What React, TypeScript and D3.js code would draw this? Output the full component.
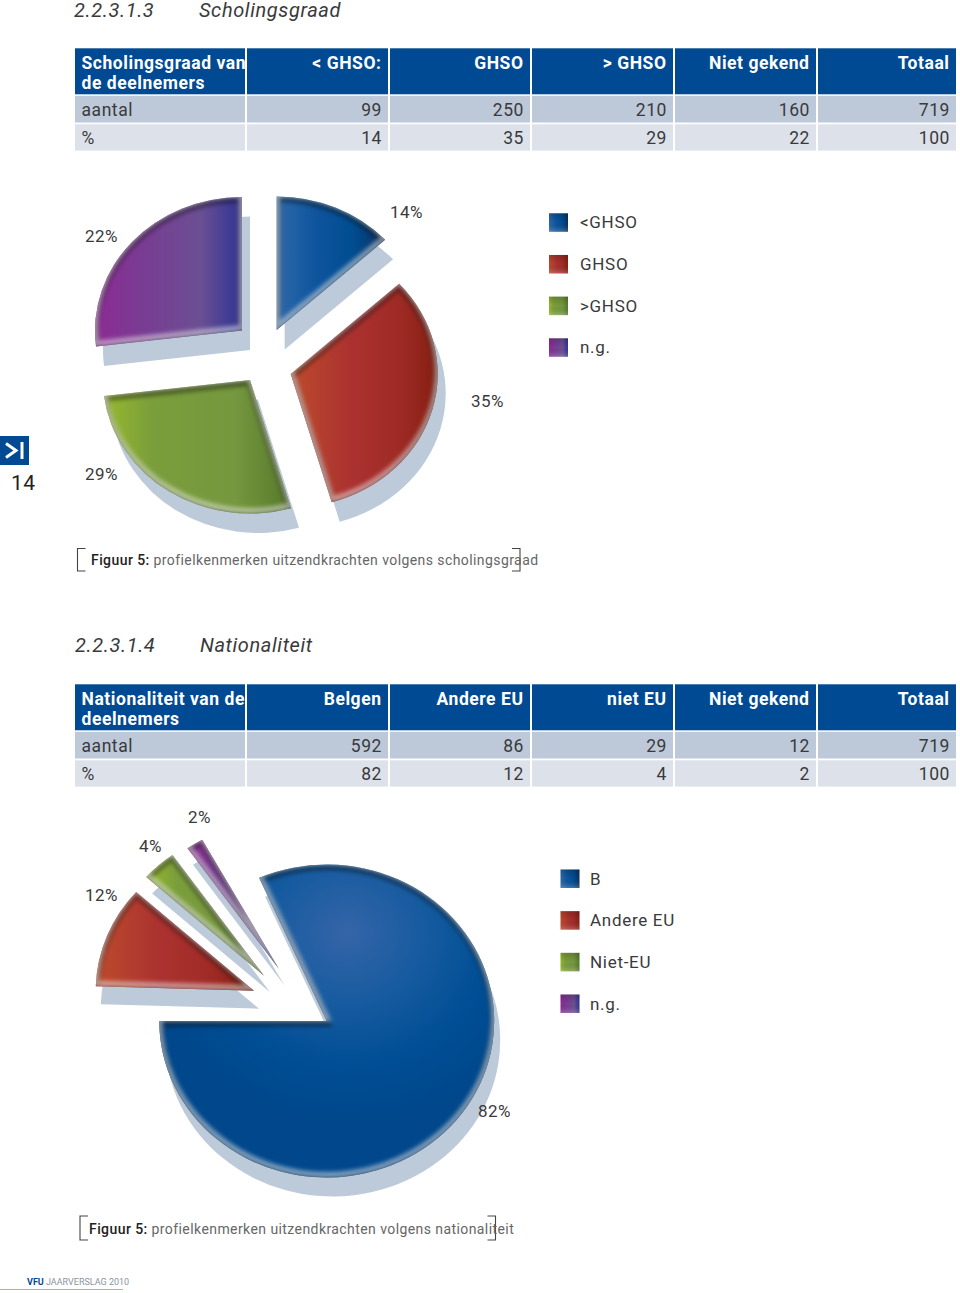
import React from "react";
import * as d3 from "d3";

// ---- tables
const table1Head = ["Scholingsgraad van|de deelnemers", "< GHSO:", "GHSO", "> GHSO", "Niet gekend", "Totaal"];
const table1Count = ["aantal", "99", "250", "210", "160", "719"];
const table1Pct = ["%", "14", "35", "29", "22", "100"];
const table2Head = ["Nationaliteit van de|deelnemers", "Belgen", "Andere EU", "niet EU", "Niet gekend", "Totaal"];
const table2Count = ["aantal", "592", "86", "29", "12", "719"];
const table2Pct = ["%", "82", "12", "4", "2", "100"];

// ---- pies: wedge sizes as they are drawn in the picture, and their printed labels
const pie1Names = ["<GHSO", "GHSO", ">GHSO", "n.g."];
const pie1Drawn = [13.2, 32.3, 27.6, 26.9];
const pie1Labels = ["14%", "35%", "29%", "22%"];
const pie2Names = ["B", "", "Andere EU", "Niet-EU", "n.g.", ""]; // unnamed = empty gap in the drawing
const pie2Drawn = [81.6, 0.5, 11.15, 3.55, 1.75, 1.45];
const pie2Labels = ["82%", "", "12%", "4%", "2%", ""];
const pie2Legend = ["B", "Andere EU", "Niet-EU", "n.g."];

// ---- layout + style
const FONT = "Roboto, sans-serif";
const COLS = [75, 247, 390, 532, 675, 818, 958];
const NAVY = "#004a93";
const INK = "#3a3a3c";
const SHADOW = "#bccad9";

const fills: Record<string, [number, string][]> = {
  blue: [[0, "#2e69aa"], [0.35, "#0f559e"], [0.7, "#004d91"], [1, "#0b2f5f"]],
  red: [[0, "#bd4b2c"], [0.4, "#ab3230"], [0.72, "#a02b26"], [1, "#851f12"]],
  green: [[0, "#96b92e"], [0.25, "#7b9e3b"], [0.7, "#75973f"], [1, "#56792a"]],
  purple: [[0, "#8d2b94"], [0.3, "#7a3b93"], [0.72, "#6b4f93"], [0.92, "#3f3b94"], [1, "#3a3690"]],
};
const colourKeys = ["blue", "red", "green", "purple"];

const pie1Layout = [
  { x: 276.7, y: 330, lx: 390, ly: 218 },
  { x: 290.7, y: 374, lx: 471, ly: 407 },
  { x: 250, y: 380, lx: 85, ly: 480 },
  { x: 242, y: 330.5, lx: 85, ly: 242 },
];
const pie2Layout: Record<string, { x: number; y: number; k: number; lx: number; ly: number; sx: number; sy: number }> = {
  "B": { x: 326.7, y: 1021, k: 1, lx: 478, ly: 1117, sx: 6, sy: 19 },
  "Andere EU": { x: 254, y: 990.7, k: 0.945, lx: 85, ly: 901, sx: 5, sy: 18 },
  "Niet-EU": { x: 264, y: 975.7, k: 0.945, lx: 139, ly: 852, sx: 6, sy: 16.5 },
  "n.g.": { x: 279, y: 969, k: 0.945, lx: 188, ly: 823, sx: 5.5, sy: 16.5 },
};

function Table({ y, head, count, pct }: { y: number; head: string[]; count: string[]; pct: string[] }) {
  const xs = d3.scaleOrdinal<number, number>().domain(d3.range(6)).range(COLS);
  const rows = [
    { cells: count, top: y + 47.5, h: 26.7, fill: "#bdc9d8" },
    { cells: pct, top: y + 76, h: 26.3, fill: "#dde2ea" },
  ];
  return (
    <g fontFamily={FONT} fontSize={17.5}>
      {head.map((h, i) => {
        const x0 = i === 0 ? 75 : COLS[i];
        const x1 = i === 0 ? 245 : COLS[i + 1] - 2;
        const lines = h.split("|");
        return (
          <g key={i}>
            <rect x={x0} y={y} width={x1 - x0} height={46} fill={NAVY} />
            {lines.map((t, j) => (
              <text key={j} x={i === 0 ? 81.5 : x1 - 6.5} y={y + 21 + j * 19.5} textAnchor={i === 0 ? "start" : "end"}
                fill="#fff" fontWeight={700} letterSpacing={0.55}>{t}</text>
            ))}
          </g>
        );
      })}
      {rows.map((r, ri) => r.cells.map((c, i) => {
        const x0 = i === 0 ? 75 : xs(i);
        const x1 = i === 0 ? 245 : COLS[i + 1] - 2;
        return (
          <g key={ri + "-" + i}>
            <rect x={x0} y={r.top} width={x1 - x0} height={r.h} fill={r.fill} />
            <text x={i === 0 ? 81.5 : x1 - 6} y={r.top + 20} textAnchor={i === 0 ? "start" : "end"} fill={INK} letterSpacing={0.55}>{c}</text>
          </g>
        );
      }))}
    </g>
  );
}

function Wedge({ id, d, x, y, sx, sy, scaleX, colour, mode }: any) {
  const tf = `translate(${x},${y}) scale(${scaleX},1)`;
  if (mode === "shadow") return <path d={d} transform={`translate(${x + sx},${y + sy}) scale(${scaleX},1)`} fill={SHADOW} />;
  return (
    <g>
      <clipPath id={`clip-${id}`}><path d={d} transform={tf} /></clipPath>
      <path d={d} transform={tf} fill={`url(#grad-${colour})`} />
      <g clipPath={`url(#clip-${id})`}>
        <path d={d} transform={`translate(${x},${y + 2}) scale(${scaleX},1)`} fill="none" stroke="#000" strokeOpacity={0.42} strokeWidth={7} filter="url(#soft)" />
        <path d={d} transform={`translate(${x},${y - 2.5}) scale(${scaleX},1)`} fill="none" stroke="#fff" strokeOpacity={0.5} strokeWidth={6} filter="url(#soft)" />
      </g>
    </g>
  );
}

function Legend({ x, textX, y, names }: { x: number; textX: number; y: number; names: string[] }) {
  const sy = d3.scalePoint<string>().domain(names).range([y, y + 125]);
  return (
    <g fontFamily={FONT} fontSize={17} fill={INK} letterSpacing={0.7}>
      {names.map((n, i) => (
        <g key={n}>
          <rect x={x} y={sy(n)!} width={19} height={18.5} fill={`url(#grad-${colourKeys[i]})`} />
          <rect x={x} y={sy(n)!} width={19} height={18.5} fill="url(#swatchShade)" />
          <text x={textX} y={sy(n)! + 15}>{n}</text>
        </g>
      ))}
    </g>
  );
}

function Bracket({ x0, x1, y0, y1 }: { x0: number; x1: number; y0: number; y1: number }) {
  return (
    <g fill="none" stroke="#444" strokeWidth={1.1}>
      <path d={`M${x0 + 8},${y0}H${x0}V${y1}H${x0 + 8}`} />
      <path d={`M${x1 - 8},${y0}H${x1}V${y1}H${x1 - 8}`} />
    </g>
  );
}

export default function App() {
  const R1 = 133.5, RX1 = 147;
  const R2 = 156.5, RX2 = 167.5;
  const pie1 = d3.pie<number>().sort(null)(pie1Drawn);
  const arc1 = d3.arc<d3.PieArcDatum<number>>().innerRadius(0).outerRadius(R1);
  const start2 = (336.2 / 180) * Math.PI;
  const pie2 = d3.pie<number>().sort(null).startAngle(start2).endAngle(start2 + 2 * Math.PI)(pie2Drawn);
  const slices2 = pie2
    .map((p, i) => ({ p, name: pie2Names[i], label: pie2Labels[i] }))
    .filter((s) => s.name);
  const wedge2 = (s: (typeof slices2)[number]) => {
    const k = pie2Layout[s.name].k;
    return d3.arc<d3.PieArcDatum<number>>().innerRadius(0).outerRadius(R2 * k)(s.p)!;
  };

  return (
    <svg width={960} height={1293} style={{ position: "absolute", left: 0, top: 0, background: "#fff" }}>
      <defs>
        {Object.entries(fills).map(([k, stops]) => (
          <linearGradient key={k} id={`grad-${k}`} x1="0" x2="1" y1="0" y2="0">
            {stops.map(([o, c]) => <stop key={o} offset={o} stopColor={c} />)}
          </linearGradient>
        ))}
        <radialGradient id="grad-bigblue" gradientUnits="userSpaceOnUse" cx={19} cy={-88} r={190}>
          <stop offset={0} stopColor="#3565a8" />
          <stop offset={0.4} stopColor="#155a9f" />
          <stop offset={0.7} stopColor="#004e95" />
          <stop offset={1} stopColor="#00478b" />
        </radialGradient>
        <linearGradient id="swatchShade" x1="0" x2="0" y1="0" y2="1">
          <stop offset={0} stopColor="#000" stopOpacity={0.18} />
          <stop offset={0.5} stopColor="#000" stopOpacity={0} />
          <stop offset={1} stopColor="#fff" stopOpacity={0.22} />
        </linearGradient>
        <filter id="soft" x="-20%" y="-20%" width="140%" height="140%"><feGaussianBlur stdDeviation={2} /></filter>
      </defs>

      {/* section 1 */}
      <g fontFamily={FONT} fontStyle="italic" fontSize={20} fill={INK} letterSpacing={0.6}>
        <text x={74} y={17}>2.2.3.1.3</text>
        <text x={199} y={17}>Scholingsgraad</text>
      </g>
      <Table y={48.3} head={table1Head} count={table1Count} pct={table1Pct} />

      {pie1.map((p, i) => (
        <Wedge key={i} mode="shadow" d={arc1(p)} x={pie1Layout[i].x} y={pie1Layout[i].y} sx={8} sy={19.5} scaleX={RX1 / R1} />
      ))}
      {pie1.map((p, i) => (
        <Wedge key={i} id={`a${i}`} d={arc1(p)} x={pie1Layout[i].x} y={pie1Layout[i].y} scaleX={RX1 / R1} colour={colourKeys[i]} />
      ))}
      <g fontFamily={FONT} fontSize={17} fill={INK} letterSpacing={0.4}>
        {pie1Labels.map((l, i) => <text key={l} x={pie1Layout[i].lx} y={pie1Layout[i].ly}>{l}</text>)}
      </g>
      <Legend x={549} textX={580} y={213.3} names={pie1Names} />

      {/* side tab */}
      <rect x={0} y={436} width={29} height={29} fill={NAVY} />
      <path d="M6,443.5L16,450.5L6,457.5" fill="none" stroke="#fff" strokeWidth={3} />
      <path d="M22,442V459" stroke="#fff" strokeWidth={3} />
      <text x={11} y={490} fontFamily={FONT} fontSize={21} fill="#222" letterSpacing={0.5}>14</text>

      <Bracket x0={77.5} x1={520} y0={548.5} y1={571} />
      <text x={91} y={565} fontFamily={FONT} fontSize={14} fill="#666" letterSpacing={0.42}>
        <tspan fill="#222" fontWeight={500}>Figuur 5:</tspan> profielkenmerken uitzendkrachten volgens scholingsgraad
      </text>

      {/* section 2 */}
      <g fontFamily={FONT} fontStyle="italic" fontSize={20} fill={INK} letterSpacing={0.6}>
        <text x={75} y={652}>2.2.3.1.4</text>
        <text x={200} y={652}>Nationaliteit</text>
      </g>
      <Table y={684.3} head={table2Head} count={table2Count} pct={table2Pct} />

      {slices2.map((s) => {
        const L = pie2Layout[s.name];
        return <Wedge key={s.name} mode="shadow" d={wedge2(s)} x={L.x} y={L.y} sx={L.sx} sy={L.sy} scaleX={RX2 / R2} />;
      })}
      {slices2.map((s, i) => {
        const L = pie2Layout[s.name];
        return <Wedge key={s.name} id={`b${i}`} d={wedge2(s)} x={L.x} y={L.y} scaleX={RX2 / R2} colour={i === 0 ? "bigblue" : colourKeys[i]} />;
      })}
      <g fontFamily={FONT} fontSize={17} fill={INK} letterSpacing={0.4}>
        {slices2.map((s) => <text key={s.name} x={pie2Layout[s.name].lx} y={pie2Layout[s.name].ly}>{s.label}</text>)}
      </g>
      <Legend x={560.5} textX={590} y={869.5} names={pie2Legend} />

      <Bracket x0={80} x1={495.5} y0={1216} y1={1240} />
      <text x={89} y={1234} fontFamily={FONT} fontSize={14} fill="#666" letterSpacing={0.42}>
        <tspan fill="#222" fontWeight={500}>Figuur 5:</tspan> profielkenmerken uitzendkrachten volgens nationaliteit
      </text>

      {/* footer */}
      <text x={27} y={1285} fontFamily={FONT} fontSize={9} fill="#8a94a0">
        <tspan fill={NAVY} fontWeight={700}>VFU</tspan> JAARVERSLAG 2010
      </text>
      <line x1={0} x2={123} y1={1289.5} y2={1289.5} stroke="#9fb0c8" strokeWidth={1} />
    </svg>
  );
}
